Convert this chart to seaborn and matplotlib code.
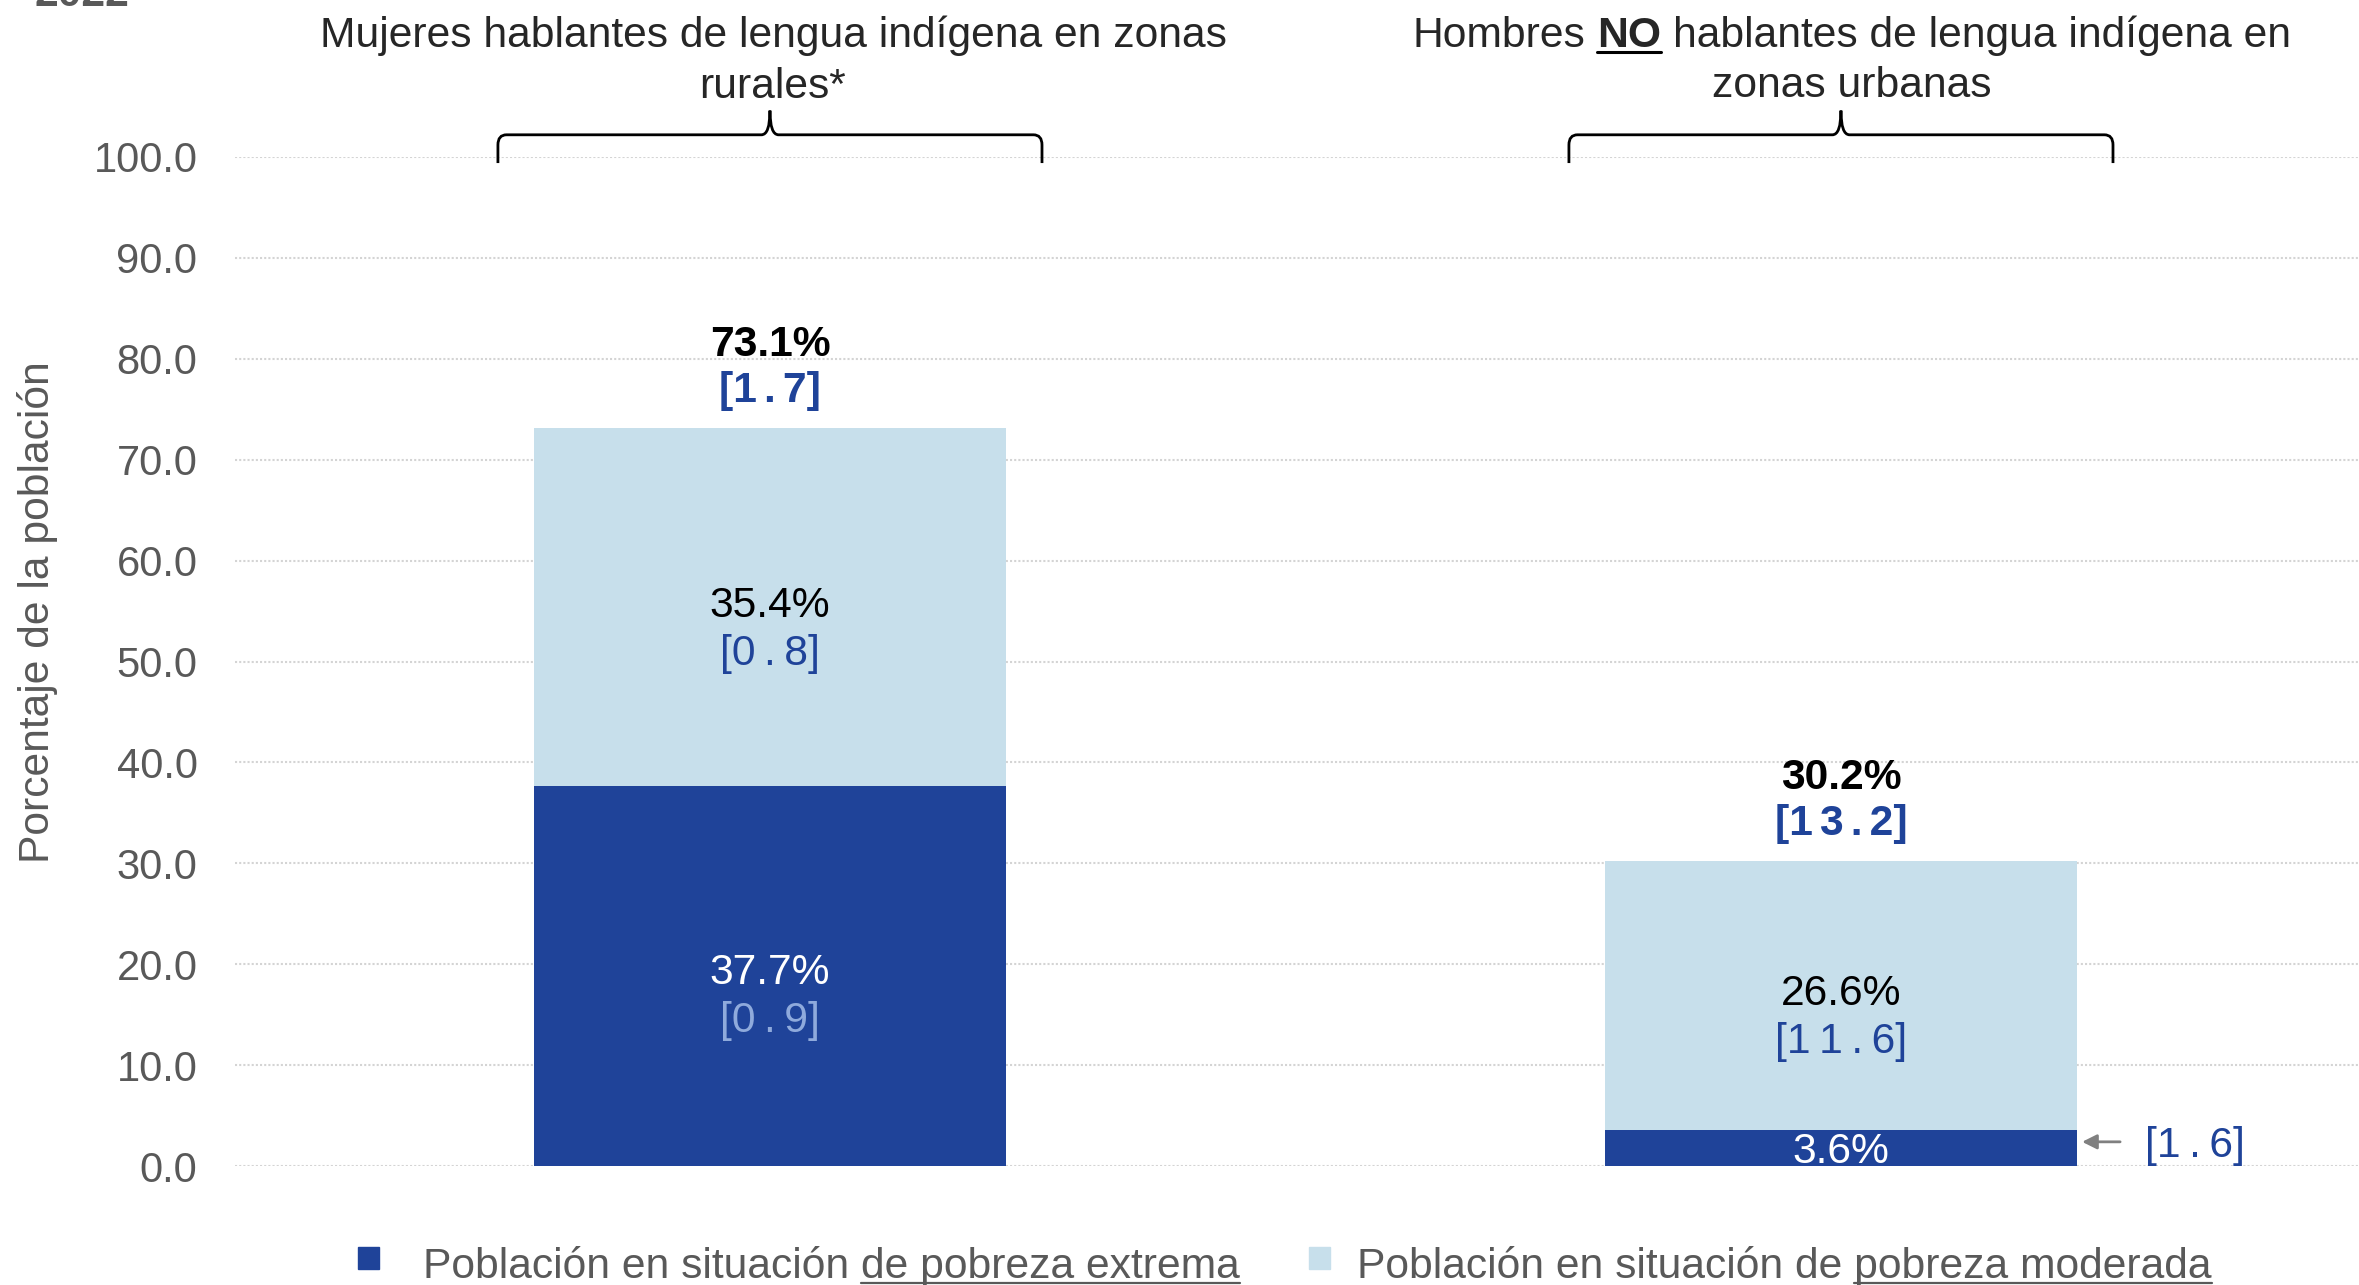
import matplotlib
matplotlib.use("Agg")
import numpy as np
import pandas as pd
import matplotlib.pyplot as plt
import seaborn as sns
from matplotlib.path import Path
from matplotlib.patches import PathPatch, Rectangle
from matplotlib.lines import Line2D
from matplotlib import transforms

# Datos (porcentaje de la población, 2022) y coeficientes de variación
groups = ["Mujeres HLI rurales", "Hombres no HLI urbanos"]
extreme = [37.7, 3.6]
moderate = [35.4, 26.6]
total = [73.1, 30.2]
cv_extreme = [0.9, 1.6]
cv_moderate = [0.8, 11.6]
cv_total = [1.7, 13.2]
y_ticks = [0, 10, 20, 30, 40, 50, 60, 70, 80, 90, 100]

year_label = "2022"
y_title = "Porcentaje de la población"
header_left = ["Mujeres hablantes de lengua indígena en zonas", "rurales*"]
header_right_1 = ["Hombres", "NO", "hablantes de lengua indígena en"]
header_right_2 = "zonas urbanas"
legend_items = [("Población en situación ", "de pobreza extrema"),
                ("Población en situación de ", "pobreza moderada")]

DARK = "#1F4399"
LIGHT = "#C7DFEB"
GRAY = "#595959"
CV_ON_DARK = "#8FAADC"
FS = 30.7
BAR_W = 0.441

W, H = 2359, 1285
sns.set_theme(style="white")
plt.rcParams["font.family"] = ["Liberation Sans", "DejaVu Sans"]

fig = plt.figure(figsize=(W / 100, H / 100), dpi=100)
ax = fig.add_axes([235 / W, 1 - 1166 / H, 1 - 235 / W, (1166 - 157) / H])


def fx(px):
    return px / W


def fy(py):
    return 1 - py / H


def spaced(v, gap="\u2009"):
    return "[" + gap.join(f"{v:.1f}") + "]"


df = pd.DataFrame({"grupo": groups, "extrema": extreme,
                   "moderada": moderate, "total": total})

sns.barplot(data=df, x="grupo", y="total", color=LIGHT, width=BAR_W,
            saturation=1, linewidth=0, ax=ax)
sns.barplot(data=df, x="grupo", y="extrema", color=DARK, width=BAR_W,
            saturation=1, linewidth=0, ax=ax)

ax.set_xlim(-0.4995, 1.4837)
ax.set_ylim(0, 100)
ax.set_xlabel("")
ax.set_ylabel("")
ax.set_xticks([])
ax.set_yticks(y_ticks)
ax.set_yticklabels([f"{v:.1f}" for v in y_ticks], fontsize=30, color=GRAY)
ax.tick_params(axis="y", length=0, pad=27)
for s in ax.spines.values():
    s.set_visible(False)
ax.set_axisbelow(True)
ax.yaxis.grid(True, linestyle=(0, (1, 1)), color="#D4D4D4", linewidth=1.5)

# etiquetas de los segmentos
for i in range(len(groups)):
    mid_e = extreme[i] / 2
    mid_m = extreme[i] + moderate[i] / 2
    # moderada
    ax.annotate(f"{moderate[i]:.1f}%", (i, mid_m), xytext=(0, -10),
                textcoords="offset pixels", ha="center", va="baseline",
                fontsize=FS, color="black")
    ax.annotate(spaced(cv_moderate[i]), (i, mid_m), xytext=(0, -58),
                textcoords="offset pixels", ha="center", va="baseline",
                fontsize=FS, color=DARK)
    # extrema
    if extreme[i] > 8:
        ax.annotate(f"{extreme[i]:.1f}%", (i, mid_e), xytext=(0, -8),
                    textcoords="offset pixels", ha="center", va="baseline",
                    fontsize=FS, color="white")
        ax.annotate(spaced(cv_extreme[i]), (i, mid_e), xytext=(0, -56),
                    textcoords="offset pixels", ha="center", va="baseline",
                    fontsize=FS, color=CV_ON_DARK)
    else:
        ax.annotate(f"{extreme[i]:.1f}%", (i, mid_e), xytext=(0, -15),
                    textcoords="offset pixels", ha="center", va="baseline",
                    fontsize=FS, color="white")
        edge = i + BAR_W / 2
        tip = transforms.offset_copy(ax.transData, fig=fig, x=5, y=6, units="dots")
        ax.annotate("", xy=(edge, mid_e), xycoords=tip, xytext=(38, 0),
                    textcoords="offset pixels",
                    arrowprops=dict(arrowstyle="-|>", color="#808080", lw=2,
                                    mutation_scale=22, shrinkA=0, shrinkB=0))
        ax.annotate(spaced(cv_extreme[i]), (edge, mid_e), xytext=(68, -9),
                    textcoords="offset pixels", ha="left", va="baseline",
                    fontsize=FS, color=DARK)
    # total
    ax.annotate(f"{total[i]:.1f}%", (i, total[i]), xytext=(0, 72),
                textcoords="offset pixels", ha="center", va="baseline",
                fontsize=FS, color="black", fontweight="bold")
    ax.annotate(spaced(cv_total[i], "\u2006"), (i, total[i]), xytext=(0, 26),
                textcoords="offset pixels", ha="center", va="baseline",
                fontsize=FS, color=DARK, fontweight="bold")

# llaves sobre cada grupo
for i in range(len(groups)):
    c, hw, rx = i, 0.254, 0.008
    yb, yh, yt = 99.4, 102.2, 104.6
    verts = [(c - hw, yb), (c - hw, yh - 1.0),
             (c - hw, yh), (c - hw + rx, yh),
             (c - rx, yh),
             (c, yh), (c, yt),
             (c, yh), (c + rx, yh),
             (c + hw - rx, yh),
             (c + hw, yh), (c + hw, yh - 1.0),
             (c + hw, yb)]
    codes = [Path.MOVETO, Path.LINETO,
             Path.CURVE3, Path.CURVE3,
             Path.LINETO,
             Path.CURVE3, Path.CURVE3,
             Path.CURVE3, Path.CURVE3,
             Path.LINETO,
             Path.CURVE3, Path.CURVE3,
             Path.LINETO]
    ax.add_patch(PathPatch(Path(verts, codes), fill=False, edgecolor="black",
                           lw=2, clip_on=False, capstyle="butt"))

fig.canvas.draw()
rend = fig.canvas.get_renderer()


def text_w(s, **kw):
    t = fig.text(0, 0, s, fontsize=FS, **kw)
    w = t.get_window_extent(renderer=rend).width
    t.remove()
    return w


def underline(x0, x1, y, lw=1.6, color="black"):
    fig.add_artist(Line2D([fx(x0), fx(x1)], [fy(y), fy(y)],
                          transform=fig.transFigure, color=color, lw=lw))


# año (cortado en el borde superior, como en el original)
fig.text(fx(35), fy(6), year_label, fontsize=FS, fontweight="bold",
         color=GRAY, ha="left", va="baseline")

# eje y
fig.text(fx(38), fy(612), y_title, fontsize=FS, color=GRAY, rotation=90,
         ha="center", va="center")

# encabezados
fig.text(fx(773), fy(47), header_left[0], fontsize=FS, ha="center", va="baseline")
fig.text(fx(773), fy(98), header_left[1], fontsize=FS, ha="center", va="baseline")

sp = text_w("a a") - text_w("aa")
w1 = text_w(header_right_1[0])
w2 = text_w(header_right_1[1], fontweight="bold")
w3 = text_w(header_right_1[2])
x = 1852 - (w1 + sp + w2 + sp + w3) / 2
fig.text(fx(x), fy(47), header_right_1[0], fontsize=FS, ha="left", va="baseline")
x += w1 + sp
fig.text(fx(x), fy(47), header_right_1[1], fontsize=FS, fontweight="bold",
         ha="left", va="baseline")
underline(x, x + w2, 52, lw=2.2)
x += w2 + sp
fig.text(fx(x), fy(47), header_right_1[2], fontsize=FS, ha="left", va="baseline")
fig.text(fx(1852), fy(97), header_right_2, fontsize=FS, ha="center", va="baseline")

# leyenda
legend_pos = [(358, 423), (1309, 1357)]
for (sq_x, tx), (pre, under), col in zip(legend_pos, legend_items, [DARK, LIGHT]):
    fig.add_artist(Rectangle((fx(sq_x), fy(1269)), 21 / W, 22 / H,
                             transform=fig.transFigure, color=col))
    full = pre + under
    fig.text(fx(tx), fy(1278), full, fontsize=FS, color=GRAY,
             ha="left", va="baseline")
    wf = text_w(full)
    wp = text_w(under)
    underline(tx + wf - wp, tx + wf, 1283, lw=1.6, color=GRAY)

fig.savefig("out.png", dpi=100)
